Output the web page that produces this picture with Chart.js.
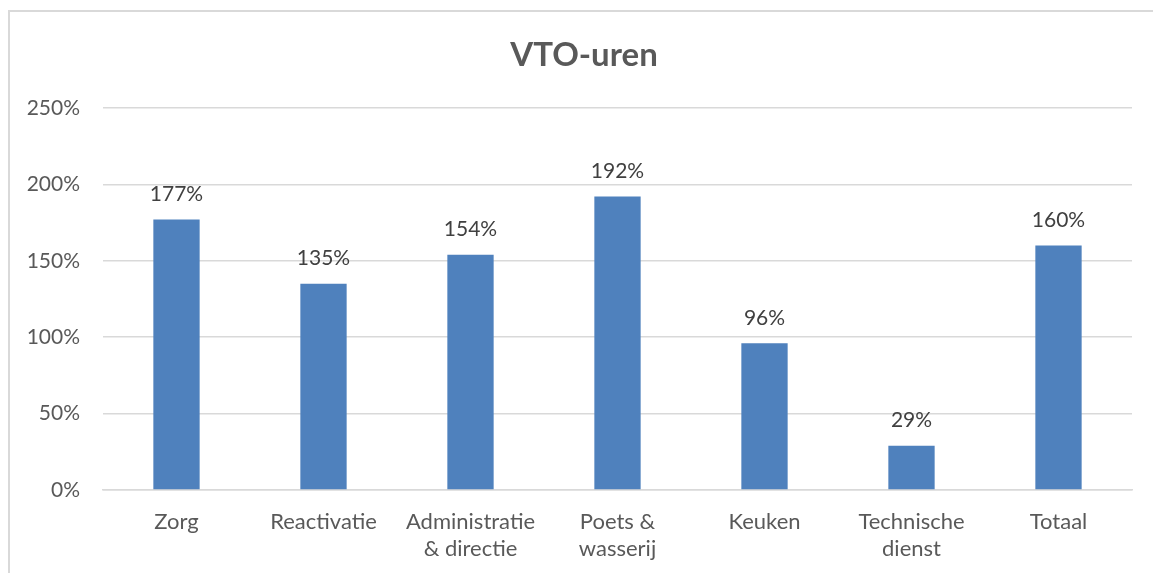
<!DOCTYPE html>
<html>
<head>
<meta charset="utf-8">
<script src="https://cdn.jsdelivr.net/npm/chart.js@4.4.0/dist/chart.umd.min.js"></script>
<style>
    html, body { margin: 0; padding: 0; background: #fff; }
    #wrap { position: relative; width: 1153px; height: 573px; }
    #frame { position: absolute; left: 8px; top: 10px; right: 0; bottom: 0; border-left: 2px solid #d9d9d9; border-top: 2px solid #d9d9d9; }
    canvas { position: absolute; left: 0; top: 0; }
</style>
</head>
<body>
<div id="wrap">
    <div id="frame"></div>
    <canvas id="chart" width="1153" height="573"></canvas>
</div>
<script>
/* ════════════════════════════════════════════════
   VTO-uren — bar chart per dienst
════════════════════════════════════════════════ */

const title = 'VTO-uren';
const categories = [
    'Zorg',
    'Reactivatie',
    ['Administratie', '& directie'],
    ['Poets &', 'wasserij'],
    'Keuken',
    ['Technische', 'dienst'],
    'Totaal'
];
const values = [177, 135, 154, 192, 96, 29, 160];   // in %
const yTicks = [0, 50, 100, 150, 200, 250];

const FONT = 'Lato, "Open Sans", sans-serif';
const GREY = '#595959';

// value labels above each bar + title centred on the frame
const barLabels = {
    id: 'barLabels',
    afterDatasetsDraw(chart) {
        const { ctx } = chart;
        const meta = chart.getDatasetMeta(0);
        ctx.save();
        ctx.font = `21px ${FONT}`;
        ctx.fillStyle = '#404040';
        ctx.textAlign = 'center';
        ctx.textBaseline = 'middle';
        meta.data.forEach((bar, i) => {
            ctx.fillText(values[i] + '%', bar.x, bar.y - 25);
        });

        ctx.font = `bold 33px ${FONT}`;
        ctx.fillStyle = GREY;
        ctx.fillText(title, 584, 55);
        ctx.restore();
    }
};

new Chart(document.getElementById('chart').getContext('2d'), {
    type: 'bar',
    data: {
        labels: categories,
        datasets: [{
            data: values,
            backgroundColor: '#4f81bd',
            categoryPercentage: 1,
            barPercentage: 0.315
        }]
    },
    options: {
        responsive: false,
        animation: false,
        layout: { padding: { left: 0, right: 21, top: 108, bottom: 0 } },
        plugins: {
            legend: { display: false },
            tooltip: { enabled: false },
            title: { display: false }
        },
        scales: {
            y: {
                min: 0,
                max: 250,
                afterBuildTicks: s => { s.ticks = yTicks.map(v => ({ value: v })); },
                afterFit: s => { s.width = 103; },
                ticks: {
                    color: GREY,
                    font: { family: FONT, size: 21 },
                    padding: 23,
                    callback: v => v + '%'
                },
                grid: { color: '#d9d9d9', lineWidth: 1.5, drawTicks: false },
                border: { display: false }
            },
            x: {
                afterFit: s => { s.height = 83; },
                ticks: {
                    color: GREY,
                    font: { family: FONT, size: 22, lineHeight: 1.23 },
                    padding: 18,
                    maxRotation: 0,
                    autoSkip: false
                },
                grid: { display: false, drawTicks: false },
                border: { color: '#d9d9d9', width: 1.5 }
            }
        }
    },
    plugins: [barLabels]
});
</script>
</body>
</html>
